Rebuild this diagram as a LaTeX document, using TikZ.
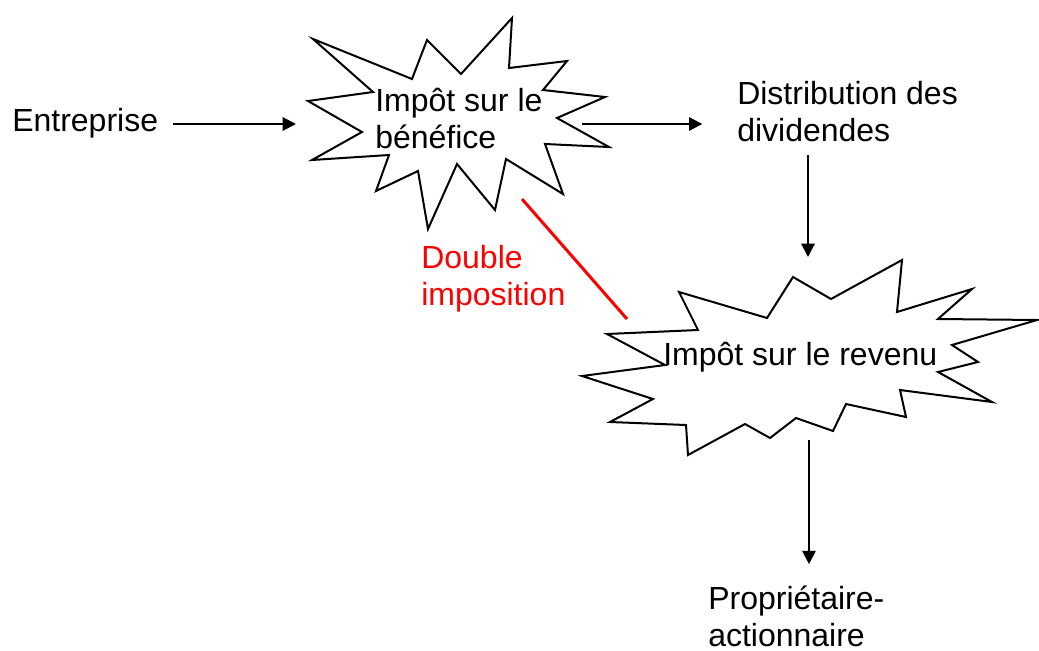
\documentclass[tikz,border=0pt]{standalone}
\usepackage{fontspec}
\setmainfont{Liberation Sans}
\usetikzlibrary{arrows.meta}

\begin{document}
\begin{tikzpicture}[x=0.75pt,y=-0.75pt,
  texte/.style={anchor=base west, inner sep=0pt, align=left, font=\fontsize{24}{27.5}\selectfont},
  fleche/.style={line width=1.5pt, -{Triangle[length=10pt,width=10pt]}},
  etoile/.style={line width=1.5pt, line join=miter, fill=white}]

\useasboundingbox (0,0) rectangle (1039,650);

% First star (tax on profit)
\draw[etoile] (313,39) -- (412,79) -- (427,40) -- (461,74) -- (512,18) -- (509,68)
  -- (567,61) -- (543,90) -- (605,97) -- (557,118) -- (609,147) -- (545,144)
  -- (563,194) -- (506,159) -- (495,210) -- (457,164) -- (428,229) -- (418,171)
  -- (376,191) -- (389,155) -- (312,160) -- (362,132) -- (308,101) -- (373,92) -- cycle;

% Second star (income tax)
\draw[etoile] (679,292) -- (767,318) -- (793,277) -- (831,299) -- (902,260) -- (897,312)
  -- (972,289) -- (938,319) -- (1037,320) -- (952,345) -- (978,362) -- (938,372)
  -- (992,402) -- (900,390) -- (906,417) -- (846,404) -- (833,431) -- (796,418)
  -- (770,438) -- (745,424) -- (688,455) -- (686,425) -- (610,422) -- (653,399)
  -- (582,376) -- (665,365) -- (607,334) -- (698,330) -- cycle;

% Anchor points on the stars
\coordinate (b1w) at (296,124);
\coordinate (b1e) at (582,124);
\coordinate (b1s) at (522,199);
\coordinate (b2n) at (808,257);
\coordinate (b2s) at (809,440);
\coordinate (b2w) at (627,319);

% Texts (base = last line)
\node[texte] (entreprise) at (12,131) {Entreprise};
\node[texte] (benefice) at (375,148) {Impôt sur le\\bénéfice};
\node[texte] (dividendes) at (737,141) {Distribution des\\dividendes};
\node[texte, text=red] (double) at (421,305) {Double\\imposition};
\node[texte] (revenu) at (663,365) {Impôt sur le revenu};
\node[texte] (proprio) at (708,646) {Propriétaire-\\actionnaire};

% Arrows
\draw[fleche, shorten <=11pt] (entreprise.east |- b1w) -- (b1w);
\draw[fleche, shorten >=26pt] (b1e) -- (b1e -| dividendes.west);
\draw[fleche, shorten <=10pt] (dividendes.south -| b2n) -- (b2n);
\draw[fleche, shorten >=16pt] (b2s) -- (b2s |- proprio.north);

% Double taxation link
\draw[red, line width=2.25pt] (b1s) -- (b2w);

\end{tikzpicture}
\end{document}
